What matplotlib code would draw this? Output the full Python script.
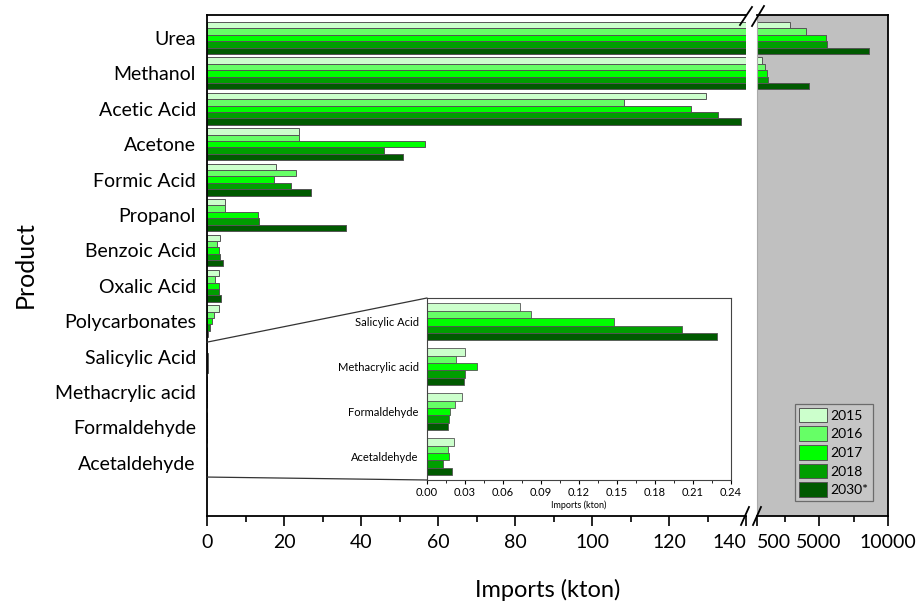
import numpy as np
import matplotlib
matplotlib.use("Agg")
import matplotlib.pyplot as plt
from matplotlib.patches import ConnectionPatch, Patch
from matplotlib.lines import Line2D
from matplotlib.ticker import MultipleLocator, FixedLocator, FormatStrFormatter

plt.rcParams['font.family'] = ['Lato', 'DejaVu Sans']

# imports per product (kton)
products = ["Urea", "Methanol", "Acetic Acid", "Acetone", "Formic Acid", "Propanol",
            "Benzoic Acid", "Oxalic Acid", "Polycarbonates", "Salicylic Acid",
            "Methacrylic acid", "Formaldehyde", "Acetaldehyde"]
years = ["2015", "2016", "2017", "2018", "2030*"]
colors = ["#ccffcc", "#66ff66", "#00ff00", "#009e00", "#005a00"]

imp_2015 = [2890, 860, 129.5, 24.0, 17.8, 4.6, 3.4, 3.1, 3.2, 0.0738, 0.0303, 0.0277, 0.0211]
imp_2016 = [4050, 1080, 108.2, 24.0, 23.0, 4.8, 2.7, 2.2, 1.9, 0.0820, 0.0232, 0.0224, 0.0166]
imp_2017 = [5500, 1225, 125.8, 56.5, 17.3, 13.3, 3.2, 3.1, 1.2, 0.1480, 0.0398, 0.0182, 0.0171]
imp_2018 = [5575, 1300, 132.6, 45.9, 21.8, 13.4, 3.5, 3.0, 0.7, 0.2015, 0.0303, 0.0177, 0.0124]
imp_2030 = [8620, 4270, 138.6, 50.9, 27.0, 36.2, 4.2, 3.7, 0.35, 0.2287, 0.0293, 0.0164, 0.0198]
series = [imp_2015, imp_2016, imp_2017, imp_2018, imp_2030]

small = products[9:]

W, H = 919, 604
fig = plt.figure(figsize=(W / 100, H / 100), dpi=100)

def fx(px):
    return px / W

def fy(py):
    return 1 - py / H

ax_l = fig.add_axes([fx(207), fy(516), fx(746 - 207), fy(15) - fy(516)])
ax_r = fig.add_axes([fx(757), fy(516), fx(888 - 757), fy(15) - fy(516)], sharey=ax_l)

y = np.arange(len(products))
bh = 0.18
offs = (np.arange(5) - 2) * bh
for ax in (ax_l, ax_r):
    for k in range(5):
        ax.barh(y + offs[k], series[k], height=bh, color=colors[k],
                edgecolor="#555555", linewidth=0.7)

ax_l.set_ylim(13.5, -0.65)
ax_l.set_xlim(0, 140)
ax_l.xaxis.set_major_locator(FixedLocator([0, 20, 40, 60, 80, 100, 120, 140]))
ax_l.xaxis.set_minor_locator(MultipleLocator(10))
ax_l.set_xticklabels(["0", "20", "40", "60", "80", "100", "120", "140"])
ax_l.set_yticks(y)
ax_l.set_yticklabels(products, fontsize=14)
ax_l.tick_params(axis="y", length=0, pad=8)
ax_l.tick_params(axis="x", which="major", length=7, width=1.2, labelsize=14, pad=6)
ax_l.tick_params(axis="x", which="minor", length=4, width=1.2)
ax_l.spines["right"].set_visible(False)
for s in ("left", "bottom", "top"):
    ax_l.spines[s].set_linewidth(1.3)
ax_l.xaxis.get_major_ticks()[-1].label1.set_horizontalalignment("right")

ax_r.set_facecolor("#c0c0c0")
ax_r.set_xlim(500, 10000)
ax_r.xaxis.set_major_locator(FixedLocator([500, 5000, 10000]))
ax_r.xaxis.set_minor_locator(FixedLocator([2500, 7500]))
ax_r.set_xticklabels(["500", "5000", "10000"])
ax_r.xaxis.get_major_ticks()[0].label1.set_horizontalalignment("left")
ax_r.tick_params(axis="y", left=False, labelleft=False)
ax_r.tick_params(axis="x", which="major", length=7, width=1.2, labelsize=14, pad=6)
ax_r.tick_params(axis="x", which="minor", length=4, width=1.2)
ax_r.spines["left"].set_color("#aaaaaa")
for s in ("right", "bottom", "top"):
    ax_r.spines[s].set_linewidth(1.3)

handles = [Patch(facecolor=c, edgecolor="#555555", linewidth=0.7) for c in colors]
leg = ax_r.legend(handles, years, loc="lower right", bbox_to_anchor=(0.885, 0.03),
                  fontsize=10, handlelength=2.0, handleheight=1.25, labelspacing=0.28,
                  handletextpad=0.3, borderpad=0.3, borderaxespad=0, frameon=True,
                  fancybox=False, facecolor="#c8c8c8", edgecolor="#555555")
leg.get_frame().set_linewidth(0.9)

fig.text(fx(548), fy(590), "Imports (kton)", fontsize=17, ha="center", va="center")
fig.text(fx(25), fy(265), "Product", fontsize=18, ha="center", va="center", rotation=90)

# break marks on the x axis
for (x0, y0, x1, y1) in [(741, 525, 749, 507), (753, 525, 761, 507),
                         (740, 25, 752, 7), (752, 26, 764, 6)]:
    fig.add_artist(Line2D([fx(x0), fx(x1)], [fy(y0), fy(y1)], color="black", lw=1.3))

# zoomed inset for the smallest imports
ax_in = fig.add_axes([fx(427), fy(480), fx(731 - 427), fy(298) - fy(480)])
yi = np.arange(len(small))
bi = 0.165
offs_i = (np.arange(5) - 2) * bi
for k in range(5):
    ax_in.barh(yi + offs_i[k], series[k][9:], height=bi, color=colors[k],
               edgecolor="#555555", linewidth=0.6)
ax_in.set_ylim(3.52, -0.53)
ax_in.set_xlim(0, 0.24)
ax_in.xaxis.set_major_locator(MultipleLocator(0.03))
ax_in.xaxis.set_minor_locator(MultipleLocator(0.015))
ax_in.xaxis.set_major_formatter(FormatStrFormatter("%.2f"))
ax_in.set_yticks(yi)
ax_in.set_yticklabels(small, fontsize=8)
ax_in.tick_params(axis="y", length=0, pad=6)
ax_in.tick_params(axis="x", which="major", length=3, labelsize=8, pad=2)
ax_in.tick_params(axis="x", which="minor", length=2)
ax_in.set_xlabel("Imports (kton)", fontsize=6.5, labelpad=2)
for s in ax_in.spines.values():
    s.set_linewidth(0.8)
    s.set_color("#444444")

for (yd, ya) in [(8.59, 1.0), (12.4, 0.0)]:
    con = ConnectionPatch(xyA=(0, yd), coordsA=ax_l.transData,
                          xyB=(0, ya), coordsB=ax_in.transAxes,
                          color="#333333", lw=0.9)
    fig.add_artist(con)

fig.savefig("out.png", dpi=100)
